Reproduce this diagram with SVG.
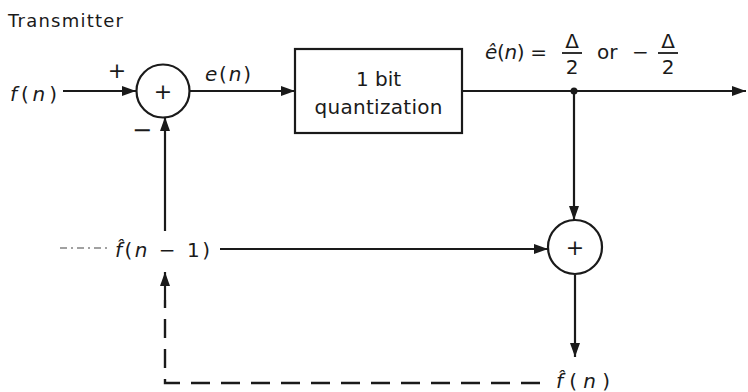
<svg xmlns="http://www.w3.org/2000/svg" width="748" height="392" viewBox="0 0 748 392">
  <style>
    text { font-family: "DejaVu Sans", "Liberation Sans", sans-serif; fill: #1a1a1a; }
    .lbl { font-size: 20px; }
    .it { font-style: italic; }
    .ln { stroke: #1a1a1a; stroke-width: 2.2; fill: none; }
    .dash { stroke: #1a1a1a; stroke-width: 2.4; fill: none; stroke-dasharray: 19 11; }
    .thin { stroke: #444; stroke-width: 1.2; fill: none; stroke-dasharray: 7 4 2 4; }
    .node { stroke: #1a1a1a; stroke-width: 2.2; fill: #fff; }
  </style>
  <defs>
    <marker id="ah" viewBox="0 0 14 10" refX="14" refY="5" markerWidth="14" markerHeight="10" markerUnits="userSpaceOnUse" orient="auto">
      <path d="M0,0 L14,5 L0,10 Z" fill="#1a1a1a"/>
    </marker>
  </defs>

  <rect width="748" height="392" fill="#fff"/>

  <text x="8" y="27" font-size="18" textLength="115" lengthAdjust="spacing">Transmitter</text>

  <g id="connectors">
    <!-- input to first adder -->
    <line class="ln" x1="63" y1="91" x2="136" y2="91" marker-end="url(#ah)"/>
    <!-- adder to quantizer -->
    <line class="ln" x1="190" y1="91" x2="295" y2="91" marker-end="url(#ah)"/>
    <!-- quantizer output -->
    <line class="ln" x1="462" y1="91" x2="746" y2="91" marker-end="url(#ah)"/>
    <circle cx="574" cy="91" r="3.5" fill="#1a1a1a"/>
    <!-- branch down to second adder -->
    <line class="ln" x1="574" y1="91" x2="574" y2="220" marker-end="url(#ah)"/>
    <!-- previous estimate into second adder -->
    <line class="ln" x1="220" y1="249" x2="548" y2="249" marker-end="url(#ah)"/>
    <!-- second adder output -->
    <line class="ln" x1="575" y1="275" x2="575" y2="357" marker-end="url(#ah)"/>
    <!-- feedback up to first adder (minus input) -->
    <line class="ln" x1="165" y1="231" x2="165" y2="117" marker-end="url(#ah)"/>
    <!-- delayed feedback path -->
    <path class="dash" d="M540,383 L165,383 L165,300"/>
    <line class="ln" x1="165" y1="300" x2="165" y2="272" marker-end="url(#ah)"/>
    <line class="thin" x1="60" y1="248" x2="108" y2="248"/>
  </g>

  <g id="sum1">
    <circle class="node" cx="163" cy="91" r="26.5"/>
    <text x="163" y="99" font-size="22" text-anchor="middle">+</text>
    <text x="117" y="78" font-size="22" text-anchor="middle">+</text>
    <text x="142" y="138" font-size="24" text-anchor="middle">−</text>
  </g>

  <g id="quantizer">
    <rect class="node" x="295" y="49" width="167" height="84"/>
    <text x="378.5" y="86" class="lbl" text-anchor="middle">1 bit</text>
    <text x="378.5" y="114" class="lbl" text-anchor="middle" textLength="128" lengthAdjust="spacing">quantization</text>
  </g>

  <g id="sum2">
    <circle class="node" cx="575" cy="247" r="27"/>
    <text x="575" y="255" font-size="22" text-anchor="middle">+</text>
  </g>

  <g id="labels">
    <text x="10" y="101" class="lbl" textLength="47" lengthAdjust="spacing"><tspan class="it">f</tspan>(<tspan class="it">n</tspan>)</text>
    <text x="205" y="81" class="lbl" textLength="46" lengthAdjust="spacing"><tspan class="it">e</tspan>(<tspan class="it">n</tspan>)</text>

    <text x="485" y="59" class="lbl" textLength="62" lengthAdjust="spacing"><tspan class="it">ê</tspan>(<tspan class="it">n</tspan>) =</text>
    <text x="572" y="48" class="lbl" text-anchor="middle">Δ</text>
    <line x1="562" y1="53" x2="582" y2="53" stroke="#1a1a1a" stroke-width="1.8"/>
    <text x="572" y="74" class="lbl" text-anchor="middle">2</text>
    <text x="597" y="59" class="lbl">or</text>
    <text x="632" y="59" class="lbl">−</text>
    <text x="668" y="48" class="lbl" text-anchor="middle">Δ</text>
    <line x1="658" y1="53" x2="678" y2="53" stroke="#1a1a1a" stroke-width="1.8"/>
    <text x="668" y="74" class="lbl" text-anchor="middle">2</text>

    <text x="115" y="257" class="lbl" textLength="95" lengthAdjust="spacing"><tspan class="it">f̂</tspan>(<tspan class="it">n</tspan> − 1)</text>
    <text x="556" y="388" class="lbl" textLength="54" lengthAdjust="spacing"><tspan class="it">f̂</tspan>(<tspan class="it">n</tspan>)</text>
  </g>
</svg>
